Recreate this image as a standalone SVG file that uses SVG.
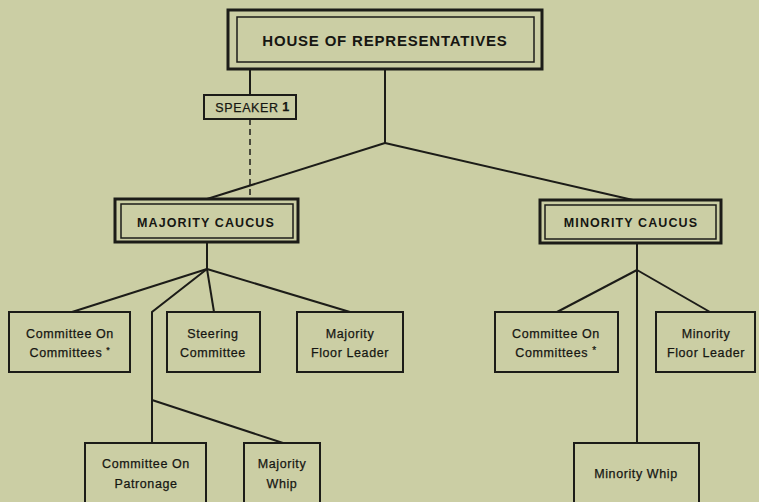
<svg xmlns="http://www.w3.org/2000/svg" width="759" height="502" viewBox="0 0 759 502">
<style>
.bg{fill:#cbcea4}
.box{fill:none;stroke:#1c1c18;stroke-width:2}
.outer{fill:none;stroke:#1c1c18;stroke-width:3}
.inner{fill:none;stroke:#1c1c18;stroke-width:1.5}
.conn{fill:none;stroke:#1c1c18;stroke-width:2}
.dash{fill:none;stroke:#1c1c18;stroke-width:1.5;stroke-dasharray:6 4}
.h{font-family:"Liberation Sans",Arial,sans-serif;font-weight:bold;fill:#161612;text-anchor:middle}
.t{font-family:"Liberation Sans",Arial,sans-serif;font-size:12.5px;letter-spacing:0.6px;fill:#161612;stroke:#161612;stroke-width:0.25;text-anchor:middle}
</style>
<rect class="bg" x="0" y="0" width="759" height="502"/>
<g id="connectors">
<line class="conn" x1="250" y1="69" x2="250" y2="95"/>
<line class="dash" x1="250" y1="119" x2="250" y2="199"/>
<polyline class="conn" points="385,69 385,143"/>
<line class="conn" x1="385" y1="143" x2="207" y2="199"/>
<line class="conn" x1="385" y1="143" x2="633" y2="200"/>
<line class="conn" x1="207" y1="243" x2="207" y2="269"/>
<line class="conn" x1="207" y1="269" x2="72" y2="312"/>
<line class="conn" x1="207" y1="269" x2="214" y2="312"/>
<line class="conn" x1="207" y1="269" x2="350" y2="312"/>
<polyline class="conn" points="207,269 152,312 152,443"/>
<line class="conn" x1="152" y1="400" x2="283" y2="443"/>
<line class="conn" x1="637" y1="243" x2="637" y2="443"/>
<line class="conn" x1="637" y1="270" x2="557" y2="312"/>
<line class="conn" x1="637" y1="270" x2="710" y2="312"/>
</g>
<g id="house">
<rect class="outer" x="228" y="10" width="314" height="59"/>
<rect class="inner" x="237" y="17" width="297" height="45"/>
<text class="h" x="385" y="46" font-size="15" letter-spacing="0.8">HOUSE OF REPRESENTATIVES</text>
</g>
<g id="speaker">
<rect class="box" x="204" y="95" width="92" height="24" stroke-width="1.5"/>
<text class="t" x="247" y="112" font-size="10.5" letter-spacing="0.8" stroke-width="0.2">SPEAKER</text>
<text class="t" x="286" y="111" font-size="8" font-weight="bold">1</text>
</g>
<g id="majority-caucus">
<rect class="outer" x="115" y="199" width="183" height="43" stroke-width="2"/>
<rect class="inner" x="121" y="204" width="172" height="34"/>
<text class="h" x="206" y="227" font-size="12.5" letter-spacing="1.1">MAJORITY CAUCUS</text>
</g>
<g id="minority-caucus">
<rect class="outer" x="540" y="200" width="181" height="43" stroke-width="2"/>
<rect class="inner" x="545" y="205" width="171" height="34"/>
<text class="h" x="631" y="227" font-size="12.5" letter-spacing="1.1">MINORITY CAUCUS</text>
</g>
<g id="maj-coc">
<rect class="box" x="9" y="312" width="121" height="60"/>
<text class="t" x="70" y="338">Committee On</text>
<text class="t" x="70" y="357">Committees <tspan font-size="9" dy="-4">*</tspan></text>
</g>
<g id="steering">
<rect class="box" x="167" y="312" width="93" height="60"/>
<text class="t" x="213" y="338">Steering</text>
<text class="t" x="213" y="357">Committee</text>
</g>
<g id="maj-floor">
<rect class="box" x="297" y="312" width="106" height="60"/>
<text class="t" x="350" y="338">Majority</text>
<text class="t" x="350" y="357">Floor Leader</text>
</g>
<g id="min-coc">
<rect class="box" x="495" y="312" width="123" height="60"/>
<text class="t" x="556" y="338">Committee On</text>
<text class="t" x="556" y="357">Committees <tspan font-size="10" dy="-3">*</tspan></text>
</g>
<g id="min-floor">
<rect class="box" x="656" y="312" width="99" height="60"/>
<text class="t" x="706" y="338">Minority</text>
<text class="t" x="706" y="357">Floor Leader</text>
</g>
<g id="patronage">
<rect class="box" x="85" y="443" width="121" height="64"/>
<text class="t" x="146" y="468">Committee On</text>
<text class="t" x="146" y="488">Patronage</text>
</g>
<g id="maj-whip">
<rect class="box" x="244" y="443" width="76" height="64"/>
<text class="t" x="282" y="468">Majority</text>
<text class="t" x="282" y="488">Whip</text>
</g>
<g id="min-whip">
<rect class="box" x="574" y="443" width="125" height="64"/>
<text class="t" x="636" y="478">Minority Whip</text>
</g>
</svg>
